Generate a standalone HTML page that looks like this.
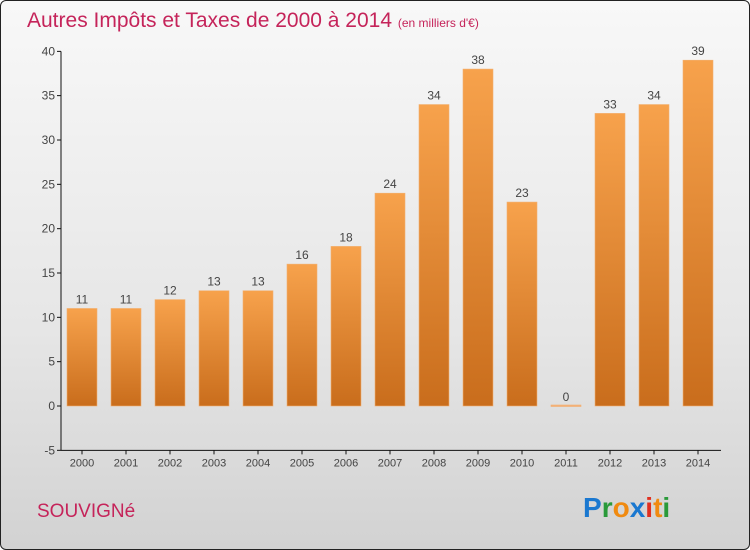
<!DOCTYPE html>
<html><head><meta charset="utf-8"><style>
body{margin:0;}
#wrap{position:relative;width:748px;height:548px;border:1px solid #222;border-radius:6px;background:linear-gradient(#f8f8f8,#e6e6e6 60%,#d2d2d2);overflow:hidden;font-family:"Liberation Sans",sans-serif;}
</style></head><body>
<div id="wrap">
<svg id="chart" width="748" height="548">
<defs><linearGradient id="bg" x1="0" y1="0" x2="0" y2="1"><stop offset="0" stop-color="#f7a24c"/><stop offset="1" stop-color="#c96d1c"/></linearGradient></defs>
<text x="26" y="26" font-size="21" fill="#c5245a">Autres Impôts et Taxes de 2000 à 2014 <tspan font-size="12">(en milliers d'€)</tspan></text>
<text x="36" y="516" font-size="19" fill="#c5245a">SOUVIGNé</text>
<g font-size="28" font-weight="bold">
<text x="582" y="516"><tspan fill="#1a78d0">P</tspan><tspan fill="#2a9a3a">r</tspan><tspan fill="#f08a10">o</tspan><tspan fill="#1a78d0">x</tspan><tspan fill="#e03020">i</tspan><tspan fill="#f08a10">t</tspan><tspan fill="#2a9a3a">i</tspan></text></g>
<g id="plot"></g>
</svg>
</div>
<script>
const categories=["2000","2001","2002","2003","2004","2005","2006","2007","2008","2009","2010","2011","2012","2013","2014"];
const values=[11,11,12,13,13,16,18,24,34,38,23,0,33,34,39];
const yTicks=[-5,0,5,10,15,20,25,30,35,40];
const ns="http://www.w3.org/2000/svg";
const g=document.getElementById("plot");
const y=v=>405-(v)*(399/45);
const x=i=>81+i*44;
function el(t,a,p){const e=document.createElementNS(ns,t);for(const k in a)e.setAttribute(k,a[k]);(p||g).appendChild(e);return e;}
let ax=el("line",{x1:60,y1:y(40),x2:60,y2:y(-5),stroke:"#111"});


let bx=el("line",{x1:60,y1:y(-5),x2:720,y2:y(-5),stroke:"#111"});


yTicks.forEach(t=>{
 el("line",{x1:56,x2:60,y1:y(t),y2:y(t),stroke:"#111"});
 const tx=el("text",{x:54,y:y(t)+4,"text-anchor":"end","font-size":12,fill:"#444"});tx.textContent=t;
 
 
});
categories.forEach((c,i)=>{
 el("line",{x1:x(i),x2:x(i),y1:y(-5),y2:y(-5)+4,stroke:"#111"});
 const tl=el("text",{x:x(i),y:y(-5)+16,"text-anchor":"middle","font-size":11,fill:"#444"});tl.textContent=c;
 
 
 const v=values[i];
 const top=y(Math.max(v,0)),h=Math.max(Math.abs(y(v)-y(0)),1.5);
 const r=el("rect",{x:x(i)-15,y:v===0?y(0)-1:top,width:30,height:h,fill:v===0?"#f4b078":"url(#bg)",stroke:"#f2b070","stroke-width":0.6});
 
 
 const lb=el("text",{x:x(i),y:top-5,"text-anchor":"middle","font-size":12,fill:"#444"});lb.textContent=v;
 
 
});
</script>
</body></html>
